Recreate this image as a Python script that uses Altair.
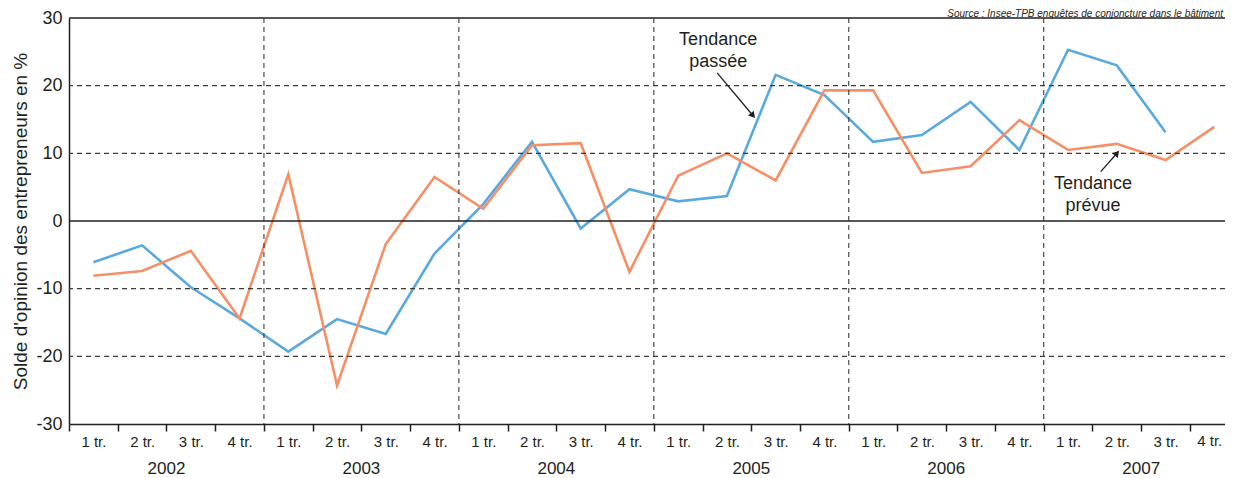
import json
import altair as alt
import pandas as pd

# ---------------- data ----------------
years = ["2002", "2003", "2004", "2005", "2006", "2007"]
quarters = ["1 tr.", "2 tr.", "3 tr.", "4 tr."]
series_names = ["Tendance passée", "Tendance prévue"]
passee = [-6.1, -3.6, -9.8, -14.4,
          -19.3, -14.5, -16.7, -4.8,
          2.5, 11.7, -1.1, 4.7,
          2.9, 3.7, 21.6, 18.6,
          11.7, 12.7, 17.6, 10.5,
          25.3, 23.0, 13.1, None]
prevue = [-8.1, -7.4, -4.4, -14.4,
          6.9, -24.3, -3.4, 6.5,
          1.8, 11.2, 11.5, -7.5,
          6.7, 10.0, 6.0, 19.3,
          19.3, 7.1, 8.1, 14.9,
          10.5, 11.4, 9.0, 13.9]
y_ticks = [-30, -20, -10, 0, 10, 20, 30]
dashed_levels = [-20, -10, 10, 20]
solid_levels = [0, 30]
source_text = "Source : Insee-TPB enquêtes de conjoncture dans le bâtiment"
y_title = "Solde d'opinion des entrepreneurs en %"

# annotations (label lines, x centre in quarter units, y value of first line)
ann_labels = [["Tendance", "passée"], ["Tendance", "prévue"]]
ann_x = [13.32, 21.01]
ann_y = [26.7, 5.45]
# arrows: start (x, y) -> tip (x, y), head angle
arrow_x = [13.30, 21.17]
arrow_y = [21.9, 7.3]
arrow_x2 = [14.02, 21.49]
arrow_y2 = [15.7, 9.9]
arrow_angle = [140, 40]

# ---------------- style ----------------
colors = ["#5AA9DE", "#F58F66"]
ink = "#231F20"
FONT = "Liberation Sans, Arial, sans-serif"
W, H = 1156, 406
X_MAX = 23.72
N = len(years) * len(quarters)

rows = []
for name, vals in zip(series_names, [passee, prevue]):
    for i, v in enumerate(vals):
        if v is None:
            continue
        rows.append({"x": i + 0.5, "y": v, "serie": name,
                     "annee": years[i // 4], "trimestre": quarters[i % 4]})
df = pd.DataFrame(rows)

xscale = alt.Scale(domain=[0, X_MAX], nice=False, zero=False)
yscale = alt.Scale(domain=[-30, 30], nice=False, zero=False)

label_expr = (f"datum.value < {N - 1} ? "
              f"{json.dumps(quarters)}[datum.value % 4] : ''")

x_axis = alt.Axis(values=list(range(N)), labelExpr=label_expr,
                  labelOffset=24.4, tickSize=7, tickWidth=1.5,
                  tickColor=ink, domainColor=ink, domainWidth=1.5,
                  grid=False, title=None, labelFlush=False,
                  labelOverlap=False, labelFontSize=15,
                  labelPadding=3, labelColor=ink)
y_axis = alt.Axis(values=y_ticks, ticks=False, grid=False,
                  labelExpr="'' + datum.value",
                  domainColor=ink, domainWidth=1.5,
                  labelPadding=7, labelFontSize=18, labelColor=ink,
                  title=y_title, titleFontSize=19,
                  titleFontWeight="normal", titleColor=ink,
                  titlePadding=5)


def X(field):
    return alt.X(field, scale=xscale, axis=x_axis)


def Y(field):
    return alt.Y(field, scale=yscale, axis=y_axis)


lines = alt.Chart(df).mark_line(strokeWidth=2.6).encode(
    x=X("x:Q"),
    y=Y("y:Q"),
    color=alt.Color("serie:N", scale=alt.Scale(domain=series_names, range=colors),
                    legend=None),
    order=alt.Order("x:Q"),
)

dash_df = pd.DataFrame({"y": dashed_levels})
hgrid = alt.Chart(dash_df).mark_rule(color="#3A3A3A", strokeWidth=1.1,
                                     strokeDash=[5, 4]).encode(y=Y("y:Q"))

solid_df = pd.DataFrame({"y": solid_levels})
hsolid = alt.Chart(solid_df).mark_rule(color=ink, strokeWidth=1.5).encode(
    y=Y("y:Q"))

vdf = pd.DataFrame({"x": [4 * k for k in range(1, len(years))]})
vgrid = alt.Chart(vdf).mark_rule(color="#3A3A3A", strokeWidth=1.1,
                                 strokeDash=[5, 4]).encode(
    x=X("x:Q"), y=alt.value(0), y2=alt.value(H))

# last quarter label (kept inside the picture)
last_df = pd.DataFrame({"x": [N - 0.5], "t": [quarters[-1]]})
last_label = alt.Chart(last_df).mark_text(
    fontSize=15, font=FONT, color=ink, align="right", baseline="top",
    dx=8).encode(x=X("x:Q"), y=alt.value(H + 10), text="t:N")

ydf = pd.DataFrame({"x": [4 * k + 2 for k in range(len(years))], "annee": years})
year_text = alt.Chart(ydf).mark_text(fontSize=17, font=FONT, color=ink,
                                     baseline="middle").encode(
    x=X("x:Q"), y=alt.value(H + 45), text="annee:N")

adf = pd.DataFrame({"x": ann_x, "y": ann_y, "label": ann_labels})
ann_text = alt.Chart(adf).mark_text(fontSize=18, font=FONT, color=ink,
                                    baseline="middle", lineHeight=22).encode(
    x=X("x:Q"), y=Y("y:Q"), text="label")

arr_df = pd.DataFrame({"x": arrow_x, "y": arrow_y, "x2": arrow_x2,
                       "y2": arrow_y2, "angle": arrow_angle})
arrow_lines = alt.Chart(arr_df).mark_rule(color=ink, strokeWidth=1.3).encode(
    x=X("x:Q"), y=Y("y:Q"), x2="x2:Q", y2="y2:Q")
arrow_heads = alt.Chart(arr_df).mark_point(shape="triangle", filled=True,
                                           size=55, color=ink, opacity=1).encode(
    x=X("x2:Q"), y=Y("y2:Q"),
    angle=alt.Angle("angle:Q", scale=None))

src = alt.Chart(pd.DataFrame({"t": [source_text]})).mark_text(
    fontSize=10, font=FONT, fontStyle="italic", color=ink, align="right",
    baseline="alphabetic").encode(
    x=alt.value(W - 2), y=alt.value(-1), text="t:N")

chart = alt.layer(
    lines, hgrid, hsolid, vgrid, last_label, year_text, ann_text,
    arrow_lines, arrow_heads, src
).properties(
    width=W, height=H,
    autosize=alt.AutoSizeParams(type="none"),
    padding={"left": 61, "top": 10, "right": 0, "bottom": 54},
).configure_view(stroke=None).configure_axis(
    labelFont=FONT, titleFont=FONT
)

chart.save("out.html", embed_options={"renderer": "svg", "actions": False})
